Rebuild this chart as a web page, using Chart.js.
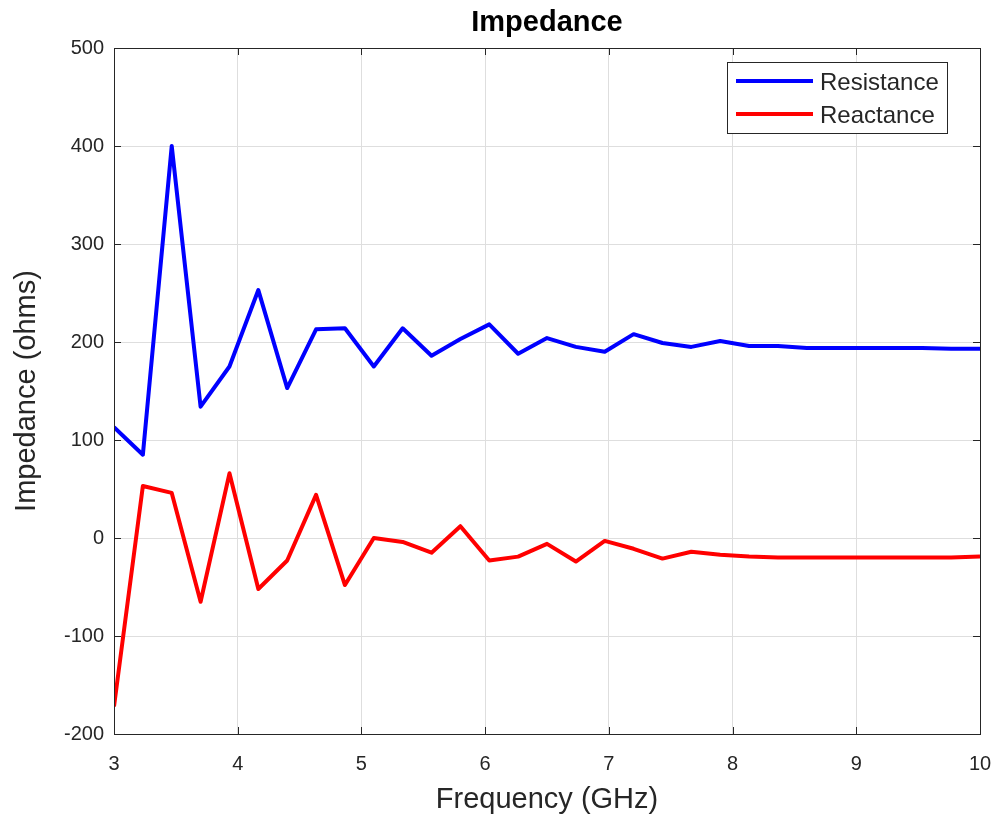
<!DOCTYPE html>
<html>
<head>
<meta charset="utf-8">
<title>Impedance</title>
<script src="https://cdn.jsdelivr.net/npm/chart.js@4.4.1/dist/chart.umd.min.js"></script>
<style>
  html, body { margin: 0; padding: 0; background: #fff; }
  #wrap { width: 1000px; height: 819px; }
</style>
</head>
<body>
<div id="wrap"><canvas id="impChart" width="1000" height="819"></canvas></div>
<script>
// frequency samples (GHz), 31 points from 3 to 10
const freqStart = 3;
const freqStop = 10;
const pointCount = 31;

const resistance = [113, 85, 400, 134, 175, 253, 153, 213, 214, 175,
                    214, 186, 203, 218, 188, 204, 195, 190, 208, 199,
                    195, 201, 196, 196, 194, 194, 194, 194, 194, 193, 193];
const reactance = [-172, 53, 46, -65, 66, -52, -23, 44, -48, 0,
                   -4, -15, 12, -23, -19, -6, -24, -3, -11, -21,
                   -14, -17, -19, -20, -20, -20, -20, -20, -20, -20, -19];

const xTicks = [3, 4, 5, 6, 7, 8, 9, 10];
const yTicks = [-200, -100, 0, 100, 200, 300, 400, 500];

const freqs = [];
for (let i = 0; i < pointCount; i++) {
    freqs.push(freqStart + i * (freqStop - freqStart) / (pointCount - 1));
}
const toPoints = vals => vals.map((v, i) => ({ x: freqs[i], y: v }));

const axisColor = '#262626';
const gridColor = '#dedede';
const fontFamily = '"Liberation Sans", Arial, Helvetica, sans-serif';

// title, box, inward ticks and legend, drawn the MATLAB way
const matlabFrame = {
    id: 'matlabFrame',
    afterDraw(chart) {
        const { ctx, chartArea: a, scales } = chart;
        ctx.save();
        // box
        ctx.strokeStyle = axisColor;
        ctx.lineWidth = 1;
        ctx.strokeRect(a.left + 0.5, a.top + 0.5, a.right - a.left, a.bottom - a.top);
        // inward ticks
        ctx.beginPath();
        xTicks.forEach(t => {
            const px = Math.round(scales.x.getPixelForValue(t)) + 0.5;
            ctx.moveTo(px, a.bottom); ctx.lineTo(px, a.bottom - 7);
            ctx.moveTo(px, a.top); ctx.lineTo(px, a.top + 7);
        });
        yTicks.forEach(t => {
            const py = Math.round(scales.y.getPixelForValue(t)) + 0.5;
            ctx.moveTo(a.left, py); ctx.lineTo(a.left + 7, py);
            ctx.moveTo(a.right, py); ctx.lineTo(a.right - 7, py);
        });
        ctx.stroke();

        // title
        ctx.fillStyle = '#000';
        ctx.font = 'bold 29px ' + fontFamily;
        ctx.textAlign = 'center';
        ctx.textBaseline = 'middle';
        ctx.fillText('Impedance', (a.left + a.right) / 2, 23);

        // legend
        const lw = 220, lh = 71;
        const lx = a.right - 33 - lw, ly = a.top + 14;
        ctx.fillStyle = '#fff';
        ctx.fillRect(lx, ly, lw, lh);
        ctx.strokeStyle = axisColor;
        ctx.strokeRect(lx + 0.5, ly + 0.5, lw, lh);
        ctx.font = '24px ' + fontFamily;
        ctx.textAlign = 'left';
        chart.data.datasets.forEach((ds, i) => {
            const yy = ly + 19 + i * 33;
            ctx.strokeStyle = ds.borderColor;
            ctx.lineWidth = 4;
            ctx.beginPath();
            ctx.moveTo(lx + 9, yy);
            ctx.lineTo(lx + 86, yy);
            ctx.stroke();
            ctx.fillStyle = axisColor;
            ctx.fillText(ds.label, lx + 93, yy + 2);
        });
        ctx.restore();
    }
};

const ctx = document.getElementById('impChart').getContext('2d');
new Chart(ctx, {
    type: 'line',
    data: {
        datasets: [{
            label: 'Resistance',
            data: toPoints(resistance),
            borderColor: '#0000ff',
            borderWidth: 4,
            borderJoinStyle: 'round',
            pointRadius: 0,
            tension: 0
        }, {
            label: 'Reactance',
            data: toPoints(reactance),
            borderColor: '#ff0000',
            borderWidth: 4,
            borderJoinStyle: 'round',
            pointRadius: 0,
            tension: 0
        }]
    },
    options: {
        responsive: false,
        animation: false,
        layout: {
            padding: { top: 48, right: 20, bottom: 0, left: 0 }
        },
        plugins: {
            legend: { display: false },
            title: { display: false },
            tooltip: { enabled: false }
        },
        scales: {
            x: {
                type: 'linear',
                min: 3,
                max: 10,
                afterFit: s => {
                    s.height = 85;
                    s.paddingLeft = 0;
                    s.paddingRight = 0;
                },
                afterBuildTicks: s => { s.ticks = xTicks.map(v => ({ value: v })); },
                grid: { color: gridColor, drawTicks: false },
                border: { display: false },
                ticks: {
                    padding: 18,
                    color: axisColor,
                    font: { family: fontFamily, size: 20 }
                },
                title: {
                    display: true,
                    text: 'Frequency (GHz)',
                    color: axisColor,
                    font: { family: fontFamily, size: 29 },
                    padding: { top: 0, bottom: 2 }
                }
            },
            y: {
                min: -200,
                max: 500,
                afterFit: s => {
                    s.width = 114;
                    s.paddingTop = 0;
                    s.paddingBottom = 0;
                },
                afterBuildTicks: s => { s.ticks = yTicks.map(v => ({ value: v })); },
                grid: { color: gridColor, drawTicks: false },
                border: { display: false },
                ticks: {
                    padding: 10,
                    color: axisColor,
                    font: { family: fontFamily, size: 20 }
                },
                title: {
                    display: true,
                    text: 'Impedance (ohms)',
                    color: axisColor,
                    font: { family: fontFamily, size: 29 },
                    padding: { top: 10, bottom: 0 }
                }
            }
        }
    },
    plugins: [matlabFrame]
});
</script>
</body>
</html>
